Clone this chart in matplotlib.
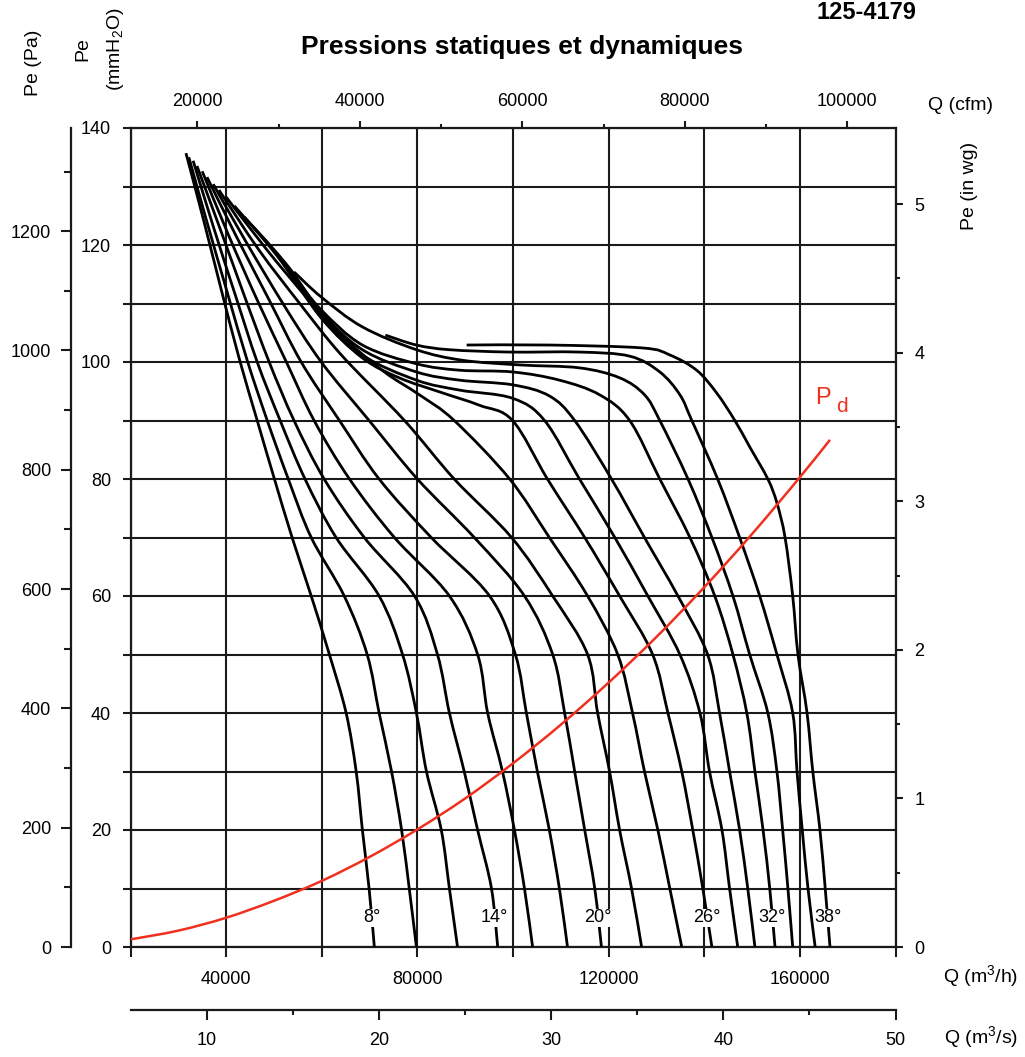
import matplotlib.pyplot as plt
import numpy as np
from matplotlib.path import Path
from matplotlib.patches import PathPatch

plt.rcParams['font.family'] = ['Liberation Sans', 'DejaVu Sans']

# fan curves: Q in 1000 m3/h, Pe in mmH2O, one pair per blade angle
q8 = [31.6, 35.4, 39.0, 42.7, 46.5, 50.1, 53.8, 57.8, 61.6, 65.1, 67.2, 68.5, 69.9, 71.0]
p8 = [135.7, 123.9, 112.3, 100.7, 90, 80, 70, 60, 50, 40, 30, 20, 10, 0]
q10 = [32.2, 36.0, 40.2, 44.4, 48.6, 53.0, 57.8, 64.7, 69.5, 72.0, 74.6, 76.7, 78.3, 79.8]
p10 = [135.0, 123.9, 112.0, 100.3, 90, 80, 70, 60, 50, 40, 30, 20, 10, 0]
q12 = [33.1, 37.3, 41.9, 46.5, 51.3, 56.5, 63.0, 72.0, 76.9, 79.8, 81.9, 85.0, 86.7, 88.4]
p12 = [134.4, 123.2, 111.5, 100.0, 90, 80, 70, 60, 50, 40, 30, 20, 10, 0]
q14 = [33.9, 39.0, 44.0, 49.0, 54.2, 60.5, 68.9, 79.4, 84.2, 86.7, 89.8, 92.6, 95.5, 96.8]
p14 = [133.5, 122.2, 110.9, 100.0, 90, 80, 70, 60, 50, 40, 30, 20, 10, 0]
q16 = [35.0, 40.6, 46.5, 52.6, 58.4, 65.8, 75.2, 86.7, 92.6, 94.7, 97.8, 100.3, 102.4, 104.1]
p16 = [132.6, 121.5, 110.6, 100.0, 90, 80, 70, 60, 50, 40, 30, 20, 10, 0]
q18 = [36.0, 42.3, 49.0, 55.7, 63.7, 72.0, 82.9, 95.1, 100.5, 102.8, 105.1, 107.6, 109.7, 111.4]
p18 = [131.6, 121.2, 110.6, 100.0, 90, 80, 70, 60, 50, 40, 30, 20, 10, 0]
q20 = [37.3, 44.4, 52.1, 59.9, 69.9, 80.0, 91.9, 102.4, 108.3, 110.8, 112.9, 115.0, 117.1, 118.5]
p20 = [130.4, 120.2, 109.7, 100.0, 90, 80, 70, 60, 50, 40, 30, 20, 10, 0]
q22 = [38.5, 46.9, 55.3, 64.1, 77.3, 87.7, 99.7, 108.3, 115.6, 117.7, 120.2, 122.3, 124.8, 126.9]
p22 = [129.4, 119.1, 110.1, 101.2, 90, 80, 70, 60, 50, 40, 30, 20, 10, 0]
q24 = [40.0, 48.6, 57.0, 64.7, 73.1, 80.4, 87.7, 99.3, 107.6, 115.6, 121.9, 125.0, 127.5, 130.3, 132.8, 135.3]
p24 = [128.2, 119.1, 110.9, 104.1, 98.3, 94.4, 90, 80, 70, 60, 50, 40, 30, 20, 10, 0]
q26 = [41.7, 50.7, 59.9, 68.5, 76.2, 84.6, 93.0, 99.9, 107.2, 115.0, 122.3, 129.2, 132.4, 135.3, 137.6, 139.7, 141.6]
p26 = [126.7, 118.1, 107.5, 100.7, 97.3, 94.9, 92.6, 90, 80, 70, 60, 50, 40, 30, 20, 10, 0]
q28 = [43.8, 52.1, 59.9, 68.5, 79.8, 88.8, 99.9, 106.6, 113.9, 121.3, 128.2, 134.9, 139.1, 141.1, 143.7, 145.3, 147.0]
p28 = [124.8, 117.1, 108.0, 101.2, 96.9, 95.2, 93.8, 90, 80, 70, 60, 50, 40, 30, 20, 10, 0]
q30 = [45.9, 53.2, 59.9, 68.5, 79.8, 88.8, 99.9, 107.6, 112.9, 120.6, 127.5, 134.5, 140.7, 143.2, 145.3, 147.4, 149.1, 150.6]
p30 = [122.9, 116.1, 108.5, 102.1, 98.3, 96.9, 96.1, 94.2, 90, 80, 70, 60, 50, 40, 30, 20, 10, 0]
q32 = [48.0, 54.2, 59.9, 68.5, 79.8, 88.8, 99.9, 109.7, 118.1, 124.4, 130.7, 137.0, 142.2, 146.0, 148.9, 150.6, 152.3, 153.7, 154.8]
p32 = [121.0, 114.7, 108.9, 102.9, 99.7, 98.6, 98.3, 96.9, 94.4, 90, 80, 70, 60, 50, 40, 30, 20, 10, 0]
q34 = [54.2, 59.9, 68.5, 79.8, 89.4, 101.4, 113.9, 122.3, 127.5, 130.7, 136.6, 141.6, 146.0, 149.5, 153.3, 155.2, 156.4, 157.5, 158.5]
p34 = [115.4, 111.1, 106.0, 102.1, 100.3, 99.5, 99.0, 97.3, 94.4, 90, 80, 70, 60, 50, 40, 30, 20, 10, 0]
q36 = [73.3, 79.8, 86.7, 99.3, 113.9, 124.4, 130.7, 134.9, 137.4, 142.8, 147.4, 151.6, 155.2, 158.5, 159.4, 160.5, 161.7, 163.2]
p36 = [104.6, 102.9, 102.1, 101.7, 101.7, 101.0, 98.3, 94.4, 90, 80, 70, 60, 50, 40, 30, 20, 10, 0]
q38 = [90.3, 107.6, 127.1, 132.8, 138.4, 142.6, 146.4, 149.5, 153.3, 155.2, 156.9, 158.5, 159.6, 161.5, 162.7, 164.2, 165.3, 166.3]
p38 = [102.9, 102.9, 102.4, 101.2, 98.6, 94.7, 90, 85.5, 80, 75.9, 70, 60, 50, 40, 30, 20, 10, 0]

# dynamic pressure Pd
pd_q = [20, 30, 40, 50, 60, 70, 80, 90, 100, 110, 120, 130, 140, 150, 160, 166.3]
pd_p = [1.3, 2.8, 5.0, 7.9, 11.3, 15.4, 20.1, 25.4, 31.4, 38.0, 45.2, 53.0, 61.5, 70.6, 80.3, 86.7]

angles = [8, 10, 12, 14, 16, 18, 20, 22, 24, 26, 28, 30, 32, 34, 36, 38]
labelled = [8, 14, 20, 26, 32, 38]

curves = {8: (q8, p8), 10: (q10, p10), 12: (q12, p12), 14: (q14, p14),
          16: (q16, p16), 18: (q18, p18), 20: (q20, p20), 22: (q22, p22),
          24: (q24, p24), 26: (q26, p26), 28: (q28, p28), 30: (q30, p30),
          32: (q32, p32), 34: (q34, p34), 36: (q36, p36), 38: (q38, p38)}


def smooth(x, y):
    # Catmull-Rom through the read points, drawn as cubic Bezier segments
    pts = np.column_stack([x, y]).astype(float)
    verts, codes = [pts[0]], [Path.MOVETO]
    n = len(pts)
    for i in range(n - 1):
        p0 = pts[max(i - 1, 0)]
        p1, p2 = pts[i], pts[i + 1]
        p3 = pts[min(i + 2, n - 1)]
        verts += [p1 + (p2 - p0) / 6, p2 - (p3 - p1) / 6, p2]
        codes += [Path.CURVE4] * 3
    return Path(verts, codes)


W, H = 1025, 1057
fig = plt.figure(figsize=(W / 100, H / 100), dpi=100)
x0, x1, y0, y1 = 130.5, 895.5, 947, 128
ax = fig.add_axes([x0 / W, 1 - y0 / H, (x1 - x0) / W, (y0 - y1) / H])

ax.set_xlim(20000, 180000)
ax.set_ylim(0, 140)

ink = '#1a1a1a'
for sp in ax.spines.values():
    sp.set_color(ink)
    sp.set_linewidth(1.6)

for a in angles:
    q, p = curves[a]
    ax.add_patch(PathPatch(smooth(np.array(q) * 1000, p), fill=False,
                           edgecolor='black', lw=2.0, zorder=3))

red = '#f0301e'
ax.add_patch(PathPatch(smooth(np.array(pd_q) * 1000, pd_p), fill=False,
                       edgecolor=red, lw=1.8, zorder=4))
ax.text(164800, 93.8, 'P', color=red, fontsize=17, ha='center', va='center')
ax.text(168900, 92.4, 'd', color=red, fontsize=15, ha='center', va='center')

# blade angle labels sitting on the curves near the bottom
for a in labelled:
    q, p = curves[a]
    xq = np.interp(5.0, p[::-1], q[::-1]) * 1000
    ax.text(xq, 5.0, f'{a}°', fontsize=13, ha='center', va='center', zorder=5,
            bbox=dict(facecolor='white', edgecolor='none', pad=0.3))

# main axes ticks and grid
ax.set_xticks(np.arange(20000, 180001, 20000))
ax.set_xticklabels(['' if v % 40000 else str(v) for v in range(20000, 180001, 20000)])
ax.set_yticks(np.arange(0, 141, 10))
ax.set_yticklabels([str(v) if v % 20 == 0 else '' for v in range(0, 141, 10)])
ax.grid(True, color=ink, lw=1.5)
ax.set_axisbelow(True)
ax.tick_params(axis='y', direction='out', length=6, width=1.5, color=ink, labelsize=13, pad=8)
ax.tick_params(axis='x', direction='out', length=7, width=1.5, color=ink, labelsize=13, pad=10.5)

# top axis in cfm
top = ax.secondary_xaxis('top', functions=(lambda q: q / 1.699, lambda c: c * 1.699))
top.set_xticks([20000, 40000, 60000, 80000, 100000])
top.set_xticks([30000, 50000, 70000, 90000], minor=True)
top.tick_params(direction='out', length=5, width=1.5, color=ink, labelsize=13, pad=8)
top.tick_params(which='minor', direction='out', length=3, width=1.5, color=ink)
top.spines['top'].set_visible(False)

# right axis in inches of water
right = ax.secondary_yaxis('right', functions=(lambda m: m / 25.4, lambda i: i * 25.4))
right.set_yticks([0, 1, 2, 3, 4, 5])
right.set_yticks([0.5, 1.5, 2.5, 3.5, 4.5], minor=True)
right.tick_params(direction='out', length=5, width=1.5, color=ink, labelsize=13, pad=8.5)
right.tick_params(which='minor', direction='out', length=3, width=1.5, color=ink)
right.spines['right'].set_visible(False)

# far-left axis in Pa
pa = ax.secondary_yaxis(-60 / (x1 - x0), functions=(lambda m: m * 9.80665, lambda v: v / 9.80665))
pa.set_yticks(np.arange(0, 1201, 200))
pa.set_yticks(np.arange(100, 1301, 200), minor=True)
pa.tick_params(direction='out', length=7, width=1.5, color=ink, labelsize=13, pad=7)
pa.tick_params(which='minor', direction='out', length=5, width=1.5, color=ink)
pa.spines['left'].set_color(ink)
pa.spines['left'].set_linewidth(1.6)

# bottom axis in m3/s
qs = ax.secondary_xaxis(-63 / (y0 - y1), functions=(lambda q: q / 3600, lambda s: s * 3600))
qs.set_xticks([10, 20, 30, 40, 50])
qs.set_xticks([15, 25, 35, 45], minor=True)
qs.tick_params(direction='out', length=7, width=1.5, color=ink, labelsize=13, pad=9)
qs.tick_params(which='minor', direction='out', length=3.6, width=1.5, color=ink)
qs.spines['bottom'].set_color(ink)
qs.spines['bottom'].set_linewidth(1.6)

# texts around the chart
fig.text(522 / W, 1 - 47 / H, 'Pressions statiques et dynamiques', fontsize=19,
         fontweight='bold', ha='center', va='center')
fig.text(866 / W, 1 - 1 / H, '125-4179', fontsize=17, fontweight='bold',
         ha='center', va='top')
fig.text(960 / W, 1 - 106 / H, 'Q (cfm)', fontsize=14, ha='center', va='center')
fig.text(969 / W, 1 - 186 / H, 'Pe (in wg)', fontsize=14, ha='center', va='center', rotation=90)
fig.text(981 / W, 1 - 977 / H, 'Q (m$^\\mathregular{3}$/h)', fontsize=14, ha='center', va='center')
fig.text(981 / W, 1 - 1038 / H, 'Q (m$^\\mathregular{3}$/s)', fontsize=14, ha='center', va='center')
fig.text(33 / W, 1 - 63 / H, 'Pe (Pa)', fontsize=14, ha='center', va='center', rotation=90)
fig.text(83 / W, 1 - 49 / H, 'Pe', fontsize=14, ha='center', va='center', rotation=90)
fig.text(116 / W, 1 - 49 / H, '(mmH$_\\mathregular{2}$O)', fontsize=14, ha='center', va='center', rotation=90)

fig.savefig('out.png', dpi=100)
